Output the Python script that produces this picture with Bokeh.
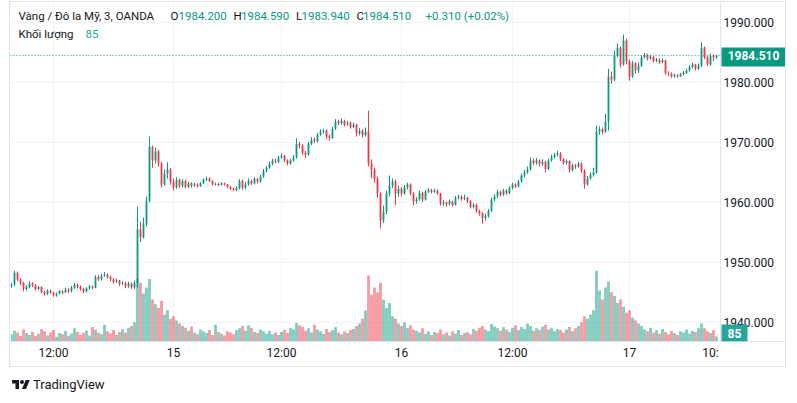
from bokeh.plotting import figure
from bokeh.models import (Range1d, FixedTicker, Span, Label, Div, BoxAnnotation,
                          ColumnDataSource, NumeralTickFormatter)
from bokeh.layouts import column
from bokeh.embed import file_html
from bokeh.resources import INLINE

# ---------------- data ----------------
first_open = 1946.0
closes = [
    1946.3, 1948.3, 1947.2, 1946.6, 1945.6, 1945.9, 1946.5, 1946.2, 1945.6, 1945.9,
    1945.1, 1944.8, 1945.3, 1945.0, 1944.5, 1944.8, 1945.2, 1945.0, 1945.5, 1945.2,
    1945.8, 1946.3, 1946.0, 1945.6, 1945.2, 1945.7, 1946.0, 1945.8, 1947.6, 1947.2,
    1947.8, 1948.0, 1947.6, 1947.2, 1946.8, 1947.0, 1946.4, 1946.6, 1946.0, 1946.5,
    1945.9, 1946.6, 1955.5, 1954.2, 1956.5, 1960.3, 1969.3, 1967.0, 1968.5, 1966.5,
    1963.0, 1964.8, 1965.5, 1963.5, 1962.5, 1963.8, 1962.8, 1963.6, 1962.6, 1963.2,
    1962.8, 1963.0, 1962.7, 1963.2, 1963.8, 1964.0, 1963.6, 1963.0, 1963.1, 1962.9,
    1963.2, 1963.0, 1962.6, 1962.3, 1962.1, 1962.4, 1963.6, 1962.5, 1963.0, 1963.6,
    1963.2, 1963.9, 1963.5, 1964.3, 1965.3, 1965.8, 1966.4, 1967.0, 1966.8, 1967.5,
    1967.8, 1967.0, 1966.5, 1967.0, 1967.5, 1969.8, 1969.5, 1968.3, 1968.0, 1969.8,
    1970.5, 1970.2, 1971.3, 1971.8, 1972.0, 1971.0, 1970.8, 1972.3, 1973.5, 1973.2,
    1973.6, 1973.0, 1973.3, 1972.6, 1973.0, 1971.5, 1972.0, 1971.2, 1971.8, 1966.5,
    1965.5, 1964.0, 1961.5, 1957.0, 1958.5, 1961.5, 1962.8, 1963.5, 1961.5, 1962.3,
    1961.5, 1962.5, 1963.0, 1961.5, 1960.2, 1960.5, 1961.6, 1960.5, 1961.8, 1962.1,
    1961.8, 1962.0, 1961.5, 1959.8, 1960.0, 1959.7, 1960.2, 1959.6, 1960.8, 1961.0,
    1960.6, 1960.8, 1960.2, 1959.3, 1959.6, 1958.6, 1958.2, 1957.4, 1957.8, 1958.6,
    1960.5, 1961.0, 1961.8, 1961.3, 1962.0, 1961.6, 1962.4, 1963.0, 1962.7, 1963.5,
    1964.5, 1965.0, 1965.5, 1967.0, 1966.6, 1967.0, 1966.4, 1966.8, 1965.6, 1967.0,
    1967.6, 1968.0, 1968.2, 1967.2, 1966.6, 1966.9, 1965.4, 1966.2, 1966.0, 1966.5,
    1965.3, 1963.0, 1964.0, 1964.6, 1965.0, 1971.8, 1972.2, 1971.8, 1973.5, 1981.0,
    1980.5, 1984.5, 1985.8, 1983.0, 1987.0, 1983.5, 1981.0, 1983.2, 1982.0, 1982.8,
    1984.2, 1984.6, 1984.0, 1984.3, 1983.6, 1983.8, 1983.4, 1983.7, 1981.6, 1981.5,
    1981.0, 1981.2, 1981.0, 1981.4, 1981.6, 1982.0, 1982.6, 1983.0, 1982.3, 1982.8,
    1985.8, 1984.2, 1983.0, 1984.4, 1984.2, 1984.51,
]
highs = [
    1946.6, 1948.6, 1948.5, 1947.4, 1946.8, 1946.2, 1946.9, 1946.7, 1946.4, 1946.1,
    1946.0, 1945.3, 1945.5, 1945.5, 1945.1, 1945.0, 1945.4, 1945.4, 1945.8, 1945.7,
    1946.1, 1946.6, 1946.5, 1946.2, 1945.8, 1945.9, 1946.3, 1946.2, 1947.9, 1947.9,
    1948.1, 1948.4, 1948.2, 1947.8, 1947.4, 1947.3, 1947.1, 1946.9, 1946.8, 1946.8,
    1946.7, 1947.0, 1959.3, 1956.8, 1957.5, 1961.0, 1971.0, 1969.5, 1969.2, 1968.8,
    1966.8, 1965.5, 1966.7, 1965.8, 1964.0, 1964.2, 1964.0, 1963.9, 1963.8, 1963.5,
    1963.4, 1963.3, 1963.2, 1963.4, 1964.0, 1964.3, 1964.2, 1963.7, 1963.3, 1963.3,
    1963.4, 1963.3, 1963.1, 1962.8, 1962.5, 1962.7, 1963.9, 1963.8, 1963.4, 1964.0,
    1963.8, 1964.2, 1964.1, 1964.6, 1965.6, 1966.1, 1966.8, 1967.3, 1967.3, 1967.8,
    1968.2, 1968.0, 1967.2, 1967.3, 1967.9, 1970.7, 1970.2, 1969.7, 1968.6, 1970.1,
    1970.9, 1970.8, 1971.6, 1972.2, 1972.3, 1972.2, 1971.3, 1972.6, 1973.9, 1973.8,
    1974.0, 1973.8, 1973.6, 1973.5, 1973.3, 1973.1, 1972.4, 1972.2, 1972.5, 1975.3,
    1967.2, 1965.8, 1964.3, 1961.7, 1959.5, 1962.0, 1964.5, 1964.0, 1963.8, 1962.8,
    1962.6, 1962.9, 1963.3, 1963.2, 1961.7, 1960.9, 1962.0, 1961.8, 1962.1, 1962.4,
    1962.3, 1962.3, 1962.2, 1961.6, 1960.4, 1960.2, 1960.5, 1960.3, 1961.1, 1961.3,
    1961.2, 1961.3, 1961.0, 1960.4, 1959.9, 1959.8, 1958.8, 1958.4, 1958.2, 1958.9,
    1960.8, 1961.4, 1962.1, 1962.0, 1962.3, 1962.2, 1962.7, 1963.3, 1963.2, 1963.8,
    1964.8, 1965.4, 1966.0, 1967.5, 1967.3, 1967.4, 1967.2, 1967.2, 1967.0, 1967.3,
    1968.0, 1968.3, 1968.6, 1968.4, 1967.4, 1967.2, 1967.0, 1966.5, 1966.4, 1966.8,
    1966.7, 1965.5, 1964.4, 1965.0, 1965.8, 1972.8, 1972.7, 1972.5, 1974.8, 1982.3,
    1981.8, 1985.3, 1986.5, 1986.0, 1988.0, 1987.3, 1983.8, 1983.6, 1983.4, 1983.3,
    1984.5, 1984.9, 1984.8, 1984.6, 1984.4, 1984.1, 1984.0, 1984.0, 1983.8, 1981.9,
    1981.7, 1981.5, 1981.4, 1981.6, 1981.9, 1982.3, 1982.9, 1983.3, 1983.1, 1983.2,
    1986.7, 1986.0, 1984.4, 1984.8, 1984.7, 1984.59,
]
lows = [
    1945.8, 1946.1, 1946.9, 1946.2, 1945.2, 1945.3, 1945.7, 1945.9, 1945.3, 1945.4,
    1944.9, 1944.5, 1944.6, 1944.8, 1944.3, 1944.3, 1944.7, 1944.7, 1944.9, 1944.9,
    1945.0, 1945.6, 1945.7, 1945.3, 1944.9, 1945.0, 1945.5, 1945.5, 1945.7, 1946.9,
    1947.0, 1947.6, 1947.3, 1946.9, 1946.5, 1946.6, 1946.1, 1946.2, 1945.7, 1945.8,
    1945.6, 1945.6, 1945.8, 1953.4, 1954.0, 1956.0, 1960.0, 1965.8, 1966.5, 1966.0,
    1962.5, 1962.8, 1964.0, 1963.0, 1962.0, 1962.3, 1962.4, 1962.5, 1962.3, 1962.4,
    1962.5, 1962.6, 1962.5, 1962.6, 1963.1, 1963.6, 1963.4, 1962.8, 1962.8, 1962.7,
    1962.8, 1962.8, 1962.4, 1962.1, 1961.9, 1961.9, 1962.2, 1962.1, 1962.2, 1962.8,
    1962.9, 1963.0, 1963.2, 1963.3, 1964.1, 1965.0, 1965.6, 1966.2, 1966.5, 1966.6,
    1967.3, 1966.7, 1966.2, 1966.3, 1966.8, 1967.3, 1969.0, 1967.9, 1967.4, 1967.8,
    1969.6, 1969.9, 1970.0, 1971.1, 1971.5, 1970.6, 1970.3, 1970.6, 1972.1, 1972.9,
    1973.0, 1972.7, 1972.8, 1972.3, 1972.4, 1971.0, 1971.2, 1970.8, 1971.0, 1966.0,
    1964.0, 1963.3, 1960.8, 1955.7, 1956.6, 1958.0, 1961.0, 1962.4, 1959.6, 1961.0,
    1961.0, 1961.3, 1962.2, 1961.2, 1959.5, 1959.8, 1960.3, 1960.1, 1960.3, 1961.6,
    1961.5, 1961.6, 1961.3, 1959.5, 1959.4, 1959.3, 1959.5, 1959.3, 1959.5, 1960.5,
    1960.3, 1960.4, 1959.9, 1959.0, 1959.0, 1958.3, 1957.8, 1956.5, 1957.0, 1957.5,
    1958.4, 1960.2, 1960.7, 1961.0, 1961.1, 1961.3, 1961.4, 1962.2, 1962.4, 1962.5,
    1963.3, 1964.2, 1964.8, 1965.3, 1966.2, 1966.3, 1966.0, 1966.1, 1965.0, 1965.4,
    1966.8, 1967.4, 1967.7, 1966.9, 1966.3, 1966.3, 1965.0, 1965.2, 1965.6, 1965.8,
    1965.0, 1962.3, 1962.8, 1963.8, 1964.3, 1964.8, 1971.3, 1971.4, 1971.6, 1972.0,
    1979.8, 1980.2, 1984.2, 1982.5, 1982.8, 1983.0, 1980.3, 1980.8, 1981.5, 1981.6,
    1982.6, 1984.0, 1983.7, 1983.8, 1983.3, 1983.4, 1983.1, 1983.2, 1981.3, 1981.1,
    1980.8, 1980.8, 1980.8, 1980.9, 1981.2, 1981.4, 1981.8, 1982.4, 1982.0, 1982.1,
    1982.6, 1983.9, 1982.7, 1982.8, 1983.6, 1983.94,
]
volumes = [
    120, 180, 150, 90, 200, 140, 110, 160, 95, 130, 210, 170, 100, 150, 190, 80, 140,
    120, 175, 95, 130, 220, 160, 110, 145, 185, 100, 240, 200, 150, 120, 280, 170, 135,
    190, 110, 160, 205, 150, 230, 260, 320,
    1050, 980, 800, 900, 1040, 700, 620, 560, 680, 450, 520, 380, 420,
    350, 300, 260, 230, 180, 250, 150, 120, 200, 170, 140, 190, 110, 280, 160, 130, 100,
    170, 150, 120, 190, 220, 260, 180, 270, 230, 160, 140, 200, 170, 130, 180, 120, 150,
    110, 160, 190, 140, 230, 200, 310, 270, 240, 180, 220, 150, 280, 200, 170, 130, 210,
    160, 190, 240, 150, 120, 170, 140, 190, 210, 260, 300, 380,
    520, 1100, 780, 900, 820, 980, 700, 560, 640, 420, 380, 300, 260, 320, 230, 270, 200,
    180, 150, 220, 130, 170, 110, 160, 140, 200, 120, 150, 100, 170, 130, 190, 110, 140,
    160, 120, 210, 180, 230, 260, 200, 170, 290, 250, 220, 180, 240, 200, 160, 230, 270,
    190, 240, 210, 300, 260, 180, 220, 190, 250, 280, 200, 230, 170, 210, 190, 150, 200,
    240, 170, 220, 260,
    320, 420, 380, 450, 520, 1180, 850, 700, 900, 1000, 820, 760, 640, 700, 580, 480, 520,
    400, 350, 300,
    260, 200, 170, 230, 150, 190, 130, 210, 160, 120, 180, 140, 110, 170, 150, 200, 130,
    180, 160, 220,
    300, 220, 170, 140, 190, 85,
]
time_tick_idx = [14, 54, 90, 130, 167, 206, 233]
time_tick_labels = ["12:00", "15", "12:00", "16", "12:00", "17", "10:"]
price_ticks = [1940, 1950, 1960, 1970, 1980, 1990]
last_price = 1984.51
last_volume = 85
legend_row1 = [("Vàng / Đô la Mỹ, 3, OANDA", "dark"), ("O", "dark"), ("1984.200", "up"),
               ("H", "dark"), ("1984.590", "up"), ("L", "dark"), ("1983.940", "up"),
               ("C", "dark"), ("1984.510", "up"), ("+0.310 (+0.02%)", "up")]
legend_row2 = [("Khối lượng", "dark"), ("85", "vol")]

# ---------------- styling / layout ----------------
UP, DN, DARK, VOLG = "#089981", "#F23645", "#131722", "#22ab94"
GRID = "#f0f3fa"
BORDER = "#e0e3eb"
FONT = "Roboto"

def px_x(px):      # page pixel -> bar index (frame starts at page x=10, 3px per bar)
    return (px - 11) / 3.0

def px_y(py):      # page pixel -> price (6px per dollar, 1990 at y=22)
    return 1990 - (py - 22) / 6.0

n = len(closes)
opens = [first_open] + closes[:-1]
idx = list(range(n))
colors = [UP if c >= o else DN for o, c in zip(opens, closes)]
src = ColumnDataSource(dict(
    x=idx, h=highs, l=lows,
    top=[max(o, c) for o, c in zip(opens, closes)],
    bot=[min(o, c) for o, c in zip(opens, closes)],
    vol=volumes, color=colors))

# the frame spans the price pane AND the price-scale column (page x 10..787)
p = figure(width=777, height=366,
           x_range=Range1d(px_x(10), px_x(787)),
           y_range=Range1d(px_y(341), px_y(2)),
           output_backend="svg", toolbar_location=None,
           y_axis_location="right",
           min_border_left=0, min_border_top=0,
           min_border_right=0, min_border_bottom=27,
           background_fill_color="white", border_fill_color="white",
           outline_line_color=None,
           styles={"border": "1px solid " + BORDER, "margin-left": "9px", "margin-top": "1px"})
p.extra_y_ranges = {"vol": Range1d(0, 339 / 0.06)}

# white column behind the price scale (hides grid lines there)
p.add_layout(BoxAnnotation(left=px_x(720), right=px_x(800), fill_color="white",
                           fill_alpha=1.0, line_color=None, level="underlay"))

# volume
p.vbar(x="x", width=0.95, top="vol", bottom=0, y_range_name="vol", source=src,
       fill_color="color", fill_alpha=0.5, line_color=None)
# candles
p.segment(x0="x", y0="h", x1="x", y1="l", source=src, line_color="color", line_width=1)
p.vbar(x="x", width=0.6, top="top", bottom="bot", source=src,
       fill_color="color", line_color=None)

p.add_layout(Span(location=last_price, dimension="width", line_color=UP,
                  line_dash="1 2", line_width=1))
p.add_layout(Span(location=px_x(720), dimension="height", line_color=BORDER, line_width=1))

# axes
ya = p.yaxis[0]
ya.ticker = FixedTicker(ticks=price_ticks)
ya.formatter = NumeralTickFormatter(format="0.000")
xa = p.xaxis[0]
xa.ticker = FixedTicker(ticks=time_tick_idx)
xa.major_label_overrides = {k: v for k, v in zip(time_tick_idx, time_tick_labels)}
for ax in (xa, ya):
    ax.major_tick_line_color = None
    ax.minor_tick_line_color = None
    ax.major_tick_out = 0
    ax.major_tick_in = 0
    ax.major_label_text_font = FONT
    ax.major_label_text_font_size = "12px"
    ax.major_label_text_color = DARK
ya.axis_line_color = None
xa.axis_line_color = BORDER
ya.major_label_standoff = -64
xa.major_label_standoff = 4

p.xgrid.ticker = FixedTicker(ticks=time_tick_idx[:-1])
p.ygrid.ticker = FixedTicker(ticks=price_ticks)
p.xgrid.grid_line_color = GRID
p.ygrid.grid_line_color = GRID

# legend texts
cmap = {"dark": DARK, "up": UP, "vol": VOLG}
row1_x = [18, 170, 178, 233, 240.5, 295.5, 301, 356, 362.5, 425]
for (t, c), px in zip(legend_row1, row1_x):
    p.add_layout(Label(x=px_x(px), y=px_y(15.5), text=t, text_color=cmap[c],
                       text_font=FONT, text_font_size="11.5px", text_baseline="middle"))
row2_x = [18, 85]
for (t, c), px in zip(legend_row2, row2_x):
    p.add_layout(Label(x=px_x(px), y=px_y(33.5), text=t, text_color=cmap[c],
                       text_font=FONT, text_font_size="11.5px", text_baseline="middle"))

# price marker & volume marker on the price scale
p.add_layout(BoxAnnotation(left=px_x(721), right=px_x(785), top=px_y(47), bottom=px_y(66),
                           fill_color=UP, fill_alpha=1.0, line_color=None))
p.add_layout(Label(x=px_x(753), y=last_price, text=f"{last_price:.3f}",
                   text_align="center", text_baseline="middle", text_color="white",
                   text_font=FONT, text_font_style="bold", text_font_size="12px"))
p.add_layout(BoxAnnotation(left=px_x(721), right=px_x(747), top=px_y(324), bottom=px_y(341),
                           fill_color="#26a69a", fill_alpha=1.0, line_color=None))
p.add_layout(Label(x=px_x(734), y=px_y(332.5), text=str(last_volume),
                   text_align="center", text_baseline="middle", text_color="white",
                   text_font=FONT, text_font_style="bold", text_font_size="12px"))

logo = Div(width=797, height=26, text=(
    '<div style="display:flex;align-items:center;height:26px;padding-left:7px;'
    'font-family:Roboto;font-size:13px;color:#131722;">'
    '<svg width="18" height="14" viewBox="0 0 36 28"><g fill="#131722">'
    '<path d="M14 22H7V11H0V4h14v18zM28 22h-8l7.5-18h8L28 22z"/>'
    '<circle cx="20" cy="8" r="4"/></g></svg>'
    '<span style="margin-left:3px">TradingView</span></div>'))

layout = column(p, logo, spacing=0)
open("out.html", "w").write(file_html(layout, INLINE))
